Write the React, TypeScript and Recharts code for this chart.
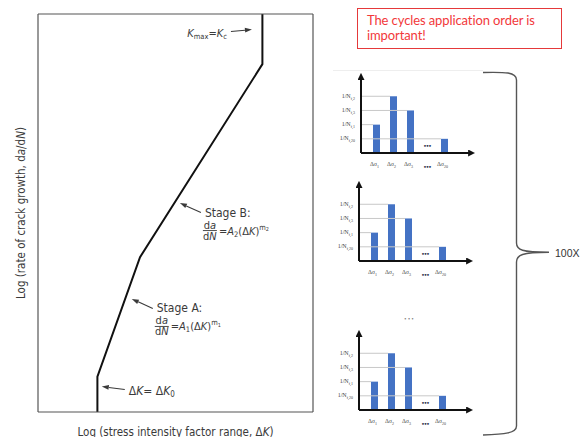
import React from "react";
import { LineChart, Line, XAxis, YAxis, ReferenceDot, BarChart, Bar } from "recharts";

// crack growth curve (log-log), both axes as % of the frame
const logDeltaK = [21.6, 21.6, 37.1, 81.6, 81.6];
const logRate = [0, 8.9, 38.9, 87.4, 100];

// one block of stress cycles
const cycleIndex = ["1", "2", "3", "dots", "20"];
const cycleDamage = [2, 4, 3, null, 1];
const damageTicks = [1, 2, 3, 4];
const damageTickSub = ["f,20", "f,1", "f,3", "f,2"];

const curveRows = logDeltaK.map((dk, i) => ({ dk, rate: logRate[i] }));
const cycleRows = cycleIndex.map((cycle, i) => ({ cycle, damage: cycleDamage[i] }));

const ISO = "'DejaVu Sans Condensed', 'Liberation Sans Narrow', sans-serif";
const INK = "#3a3a3a";
const BLUE = "#4472C4";
const AXIS_W = 36;
const frameLine = { stroke: "#555", strokeWidth: 1.2 };

function Arrow({ x1, y1, x2, y2 }: { x1: number; y1: number; x2: number; y2: number }) {
  const a = Math.atan2(y2 - y1, x2 - x1);
  const L = 7;
  const W = 2.4;
  const bx = x2 - L * Math.cos(a);
  const by = y2 - L * Math.sin(a);
  const pts = [
    [x2, y2],
    [bx + W * Math.sin(a), by - W * Math.cos(a)],
    [bx - W * Math.sin(a), by + W * Math.cos(a)],
  ]
    .map((p) => p.join(","))
    .join(" ");
  return (
    <g>
      <line x1={x1} y1={y1} x2={bx} y2={by} stroke={INK} strokeWidth={1.1} />
      <polygon points={pts} fill={INK} />
    </g>
  );
}

function Rate({ x, y, idx }: { x: number; y: number; idx: string }) {
  return (
    <g fontFamily={ISO} fill={INK} fontSize={11}>
      <text x={x + 7} y={y - 2} textAnchor="middle">
        d<tspan fontStyle="italic">a</tspan>
      </text>
      <line x1={x} x2={x + 14} y1={y} y2={y} stroke={INK} strokeWidth={0.9} />
      <text x={x + 7} y={y + 9} textAnchor="middle">
        d<tspan fontStyle="italic">N</tspan>
      </text>
      <text x={x + 16} y={y + 4}>
        =<tspan fontStyle="italic">A</tspan>
        <tspan fontSize={7.5} dy={2}>{idx}</tspan>
        <tspan dy={-2}>(Δ</tspan>
        <tspan fontStyle="italic">K</tspan>
        <tspan>)</tspan>
        <tspan fontSize={7.5} dy={-5}>m</tspan>
        <tspan fontSize={5.5} dy={1.5}>{idx}</tspan>
      </text>
    </g>
  );
}

const stageNote = (stage: string, idx: string) => (p: any) => (
  <g>
    <Arrow x1={p.cx + 21} y1={p.cy + 9.5} x2={p.cx} y2={p.cy} />
    <text x={p.cx + 25} y={p.cy + 13.5} fontFamily={ISO} fontSize={12} fill={INK}>
      Stage {stage}:
    </text>
    <Rate x={p.cx + 23} y={p.cy + 27.5} idx={idx} />
  </g>
);

const kmaxNote = (p: any) => (
  <g>
    <Arrow x1={p.cx - 21} y1={p.cy + 2} x2={p.cx} y2={p.cy} />
    <text x={p.cx - 25} y={p.cy + 7} textAnchor="end" fontFamily={ISO} fontSize={11} fill={INK}>
      <tspan fontStyle="italic">K</tspan>
      <tspan fontSize={7.5} dy={2}>max</tspan>
      <tspan dy={-2}>=</tspan>
      <tspan fontStyle="italic">K</tspan>
      <tspan fontSize={7.5} dy={2}>c</tspan>
    </text>
  </g>
);

const thresholdNote = (p: any) => (
  <g>
    <Arrow x1={p.cx + 23} y1={p.cy + 3} x2={p.cx} y2={p.cy} />
    <text x={p.cx + 27} y={p.cy + 8} fontFamily={ISO} fontSize={12} fill={INK}>
      Δ<tspan fontStyle="italic">K</tspan>= Δ<tspan fontStyle="italic">K</tspan>
      <tspan fontSize={8} dy={2}>0</tspan>
    </text>
  </g>
);

const XTitle = (props: any) => {
  const vb = props.viewBox;
  return (
    <text x={vb.x + vb.width / 2} y={vb.y + 24} textAnchor="middle" fontFamily={ISO} fontSize={11.5} fill={INK}>
      Log (stress intensity factor range, Δ<tspan fontStyle="italic">K</tspan>)
    </text>
  );
};

const YTitle = (props: any) => {
  const vb = props.viewBox;
  const cy = vb.y + vb.height / 2;
  return (
    <text
      x={21}
      y={cy}
      transform={`rotate(-90 21 ${cy})`}
      textAnchor="middle"
      dominantBaseline="central"
      fontFamily={ISO}
      fontSize={11.5}
      fill={INK}
    >
      Log (rate of crack growth, d<tspan fontStyle="italic">a</tspan>/d<tspan fontStyle="italic">N</tspan>)
    </text>
  );
};

function CrackGrowth() {
  return (
    <LineChart width={320} height={437} data={curveRows} margin={{ top: 13, right: 6, left: 0, bottom: 0 }}>
      <XAxis dataKey="dk" type="number" domain={[0, 100]} height={25} tick={false} tickLine={false} axisLine={frameLine} label={XTitle} />
      <XAxis xAxisId="frameTop" orientation="top" dataKey="dk" type="number" domain={[0, 100]} height={1} tick={false} tickLine={false} axisLine={frameLine} />
      <YAxis type="number" domain={[0, 100]} width={38} tick={false} tickLine={false} axisLine={frameLine} label={YTitle} />
      <YAxis yAxisId="frameRight" orientation="right" type="number" domain={[0, 100]} width={1} tick={false} tickLine={false} axisLine={frameLine} />
      <Line dataKey="rate" type="linear" stroke="#111" strokeWidth={2} dot={false} isAnimationActive={false} />
      <ReferenceDot x={77.8} y={96.1} r={0} shape={kmaxNote} />
      <ReferenceDot x={51.6} y={52.5} r={0} shape={stageNote("B", "2")} />
      <ReferenceDot x={34.1} y={28.4} r={0} shape={stageNote("A", "1")} />
      <ReferenceDot x={23.2} y={6.4} r={0} shape={thresholdNote} />
    </LineChart>
  );
}

const GuidedBar = (p: any) => {
  if (!p.height) return null;
  return (
    <g>
      <line x1={AXIS_W} y1={p.y} x2={p.x} y2={p.y} stroke="#c8c8c8" strokeWidth={1} />
      <rect x={p.x} y={p.y} width={p.width} height={p.height} fill={BLUE} />
    </g>
  );
};

const DamageTick = (p: any) => {
  const sub = damageTickSub[damageTicks.indexOf(p.payload.value)];
  return (
    <text x={p.x} y={p.y + 1.5} textAnchor="end" fontFamily="'Liberation Serif', serif" fontSize={6} fill="#444">
      1/N<tspan fontSize={4} dy={1.8}>{sub}</tspan>
    </text>
  );
};

const CycleTick = (p: any) => {
  if (p.payload.value === "dots") {
    return (
      <text x={p.x} y={p.y + 16} textAnchor="middle" fontSize={7} fontWeight={700} fill="#1f2a44">
        •••
      </text>
    );
  }
  return (
    <text x={p.x - 2} y={p.y + 13} textAnchor="middle" fontFamily="'Liberation Serif', serif" fontSize={6} fill="#444">
      Δσ<tspan fontSize={4} dy={1.8}>{p.payload.value}</tspan>
    </text>
  );
};

const DotsMark = (p: any) => (
  <text x={p.cx} y={p.cy + 2} textAnchor="middle" fontSize={7} fontWeight={700} fill="#1f2a44">
    •••
  </text>
);

const axisLine = { stroke: "#111", strokeWidth: 2 };

function CycleBlock({ left, top }: { left: number; top: number }) {
  return (
    <div style={{ position: "absolute", left, top }}>
      <BarChart width={154} height={103} data={cycleRows} margin={{ top: 5, right: 6, left: 0, bottom: 0 }}>
        <XAxis
          dataKey="cycle"
          height={20}
          padding={{ left: 7, right: 20 }}
          interval={0}
          tickLine={false}
          tickSize={0}
          tickMargin={0}
          axisLine={{ ...axisLine, markerEnd: "url(#axisArrow)" }}
          tick={CycleTick}
        />
        <YAxis
          type="number"
          domain={[0, 5.5]}
          ticks={damageTicks}
          interval={0}
          width={AXIS_W}
          tickLine={false}
          tickSize={0}
          tickMargin={6}
          axisLine={{ ...axisLine, markerStart: "url(#axisArrow)" }}
          tick={DamageTick}
        />
        <Bar dataKey="damage" barSize={7} fill={BLUE} shape={GuidedBar} isAnimationActive={false} />
        <ReferenceDot x="dots" y={0.5} r={0} shape={DotsMark} />
      </BarChart>
    </div>
  );
}

export default function App() {
  return (
    <div
      style={{
        position: "absolute",
        left: 0,
        top: 0,
        width: 587,
        height: 437,
        overflow: "hidden",
        background: "#fff",
      }}
    >
      <svg width={0} height={0} style={{ position: "absolute" }}>
        <defs>
          <marker
            id="axisArrow"
            viewBox="0 0 10 10"
            refX={7}
            refY={5}
            markerWidth={7}
            markerHeight={7}
            markerUnits="userSpaceOnUse"
            orient="auto-start-reverse"
          >
            <path d="M0,0 L10,5 L0,10 z" fill="#111" />
          </marker>
        </defs>
      </svg>

      <div style={{ position: "absolute", left: 0, top: 0 }}>
        <CrackGrowth />
      </div>

      <div
        style={{
          position: "absolute",
          left: 357,
          top: 8,
          width: 205,
          height: 41,
          boxSizing: "border-box",
          border: "1.5px solid #e5393a",
          color: "#f2383a",
          fontFamily: "Lato, 'Noto Sans', sans-serif",
          fontSize: 13,
          letterSpacing: -0.1,
          lineHeight: "15px",
          padding: "4px 0 0 9px",
        }}
      >
        The cycles application order is
        <br />
        important!
      </div>

      <svg width={587} height={437} style={{ position: "absolute", left: 0, top: 0 }}>
        <line x1={333} y1={70.5} x2={483} y2={70.5} stroke="#eeeeee" strokeWidth={1} />
        <path
          d="M 483 72.5 C 505 72, 516.5 72, 516.5 80 L 516.5 243 C 516.5 250, 522 252.3, 549 252.3 C 522 252.3, 516.5 255, 516.5 262 L 516.5 426 C 516.5 433, 505 434.5, 483 435"
          fill="none"
          stroke="#555"
          strokeWidth={1.4}
        />
        <text x={555} y={256.5} fontFamily="'Liberation Sans', Arial, sans-serif" fontSize={10.5} fill="#333">
          100X
        </text>
        <text x={409} y={321} textAnchor="middle" fontSize={6} fill="#777">
          • • •
        </text>
      </svg>

      <CycleBlock left={325} top={70} />
      <CycleBlock left={323} top={178} />
      <CycleBlock left={323} top={327} />
    </div>
  );
}
